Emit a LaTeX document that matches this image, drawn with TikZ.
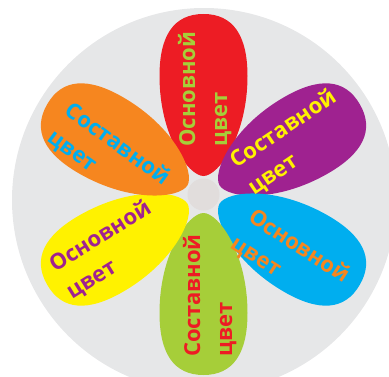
\documentclass[tikz,border=0pt]{standalone}
\usepackage{fontspec}
\setmainfont{Open Sans}
\definecolor{bggray}{HTML}{E6E7E8}
\definecolor{midgray}{HTML}{E1DDDC}
\definecolor{pred}{HTML}{ED1C24}
\definecolor{ppurple}{HTML}{9F2290}
\definecolor{pblue}{HTML}{00AEEF}
\definecolor{pgreen}{HTML}{A6CE39}
\definecolor{pyellow}{HTML}{FFF200}
\definecolor{porange}{HTML}{F6861F}
\begin{document}
\begin{tikzpicture}[x=1pt,y=1pt,
    lbl/.style={font=\fontsize{22}{22}\selectfont\bfseries,inner sep=0pt,anchor=base west}]
        \useasboundingbox (0,0) rectangle (389,376);
        \clip (0,0) rectangle (389,376);
        \fill[bggray] (204,176) circle (192);
        \coordinate (ctr) at (203.5,181.5);
        \fill[midgray] (ctr) circle (16);
        % petals, tip towards the middle
        \foreach \ang/\col in {90/pred,30/ppurple,-30/pblue,-90/pgreen,-150/pyellow,150/porange}
            \fill[\col,shift={(ctr)},rotate=\ang] (18.5,0)
                .. controls (18.5,15) and (58.5,44) .. (118.5,44)
                .. controls (158.5,44) and (180.5,30) .. (180.5,0)
                .. controls (180.5,-30) and (158.5,-44) .. (118.5,-44)
                .. controls (58.5,-44) and (18.5,-15) .. cycle;
        % labels
        \node[lbl,rotate=90,text=pgreen] (redA) at (195,229) {Основной};
        \node[lbl,rotate=90,text=pgreen] (redB) at (227,229) {цвет};
        \node[lbl,rotate=34,text=pyellow] (purA) at (236,207) {Составной};
        \node[lbl,rotate=34,text=pyellow] (purB) at (254,180.5) {цвет};
        \node[lbl,rotate=-33,text=porange] (bluA) at (247,155.6) {Основной};
        \node[lbl,rotate=-33,text=porange] (bluB) at (229.6,128.8) {цвет};
        \node[lbl,rotate=90,text=pred] (grnA) at (200,19) {Составной};
        \node[lbl,rotate=90,text=pred] (grnB) at (232,19) {цвет};
        \node[lbl,rotate=32,text=ppurple] (yelA) at (55,103) {Основной};
        \node[lbl,rotate=32,text=ppurple] (yelB) at (72,76) {цвет};
        \node[lbl,rotate=-36,text=pblue] (oraA) at (63.7,262.2) {Составной};
        \node[lbl,rotate=-36,text=pblue] (oraB) at (46.3,235.4) {цвет};
\end{tikzpicture}
\end{document}
